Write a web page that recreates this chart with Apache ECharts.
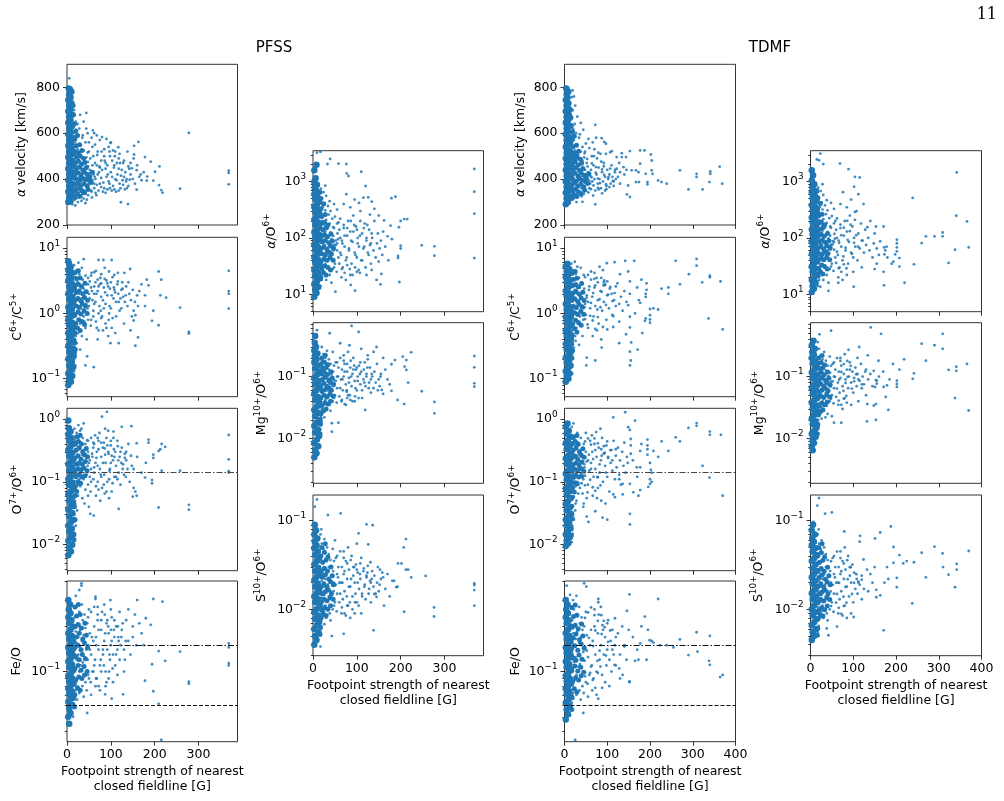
<!DOCTYPE html>
<html><head><meta charset="utf-8">
<script src="https://cdn.jsdelivr.net/npm/echarts@6/dist/echarts.min.js"></script>
<style>html,body{margin:0;padding:0;background:#fff}#c{width:1004px;height:801px}</style>
</head><body><div id="c"></div><script>
// ---------- tick labels / reference values ----------
const xTicksPFSS = [0,100,200,300];
const xTicksTDMF = [0,100,200,300,400];
const velTicks = [200,400,600,800];
const c6Ticks = [0.1,1,10];
const o7Ticks = [0.01,0.1,1];
const feoTicks = [0.1];
const aoTicks = [10,100,1000];
const mgTicks = [0.01,0.1];
const sTicks = [0.01,0.1];
const o7Threshold = 0.145;
const feoUpper = 0.152;
const feoPhot = 0.0646;

// ---------- PFSS data ----------
const pfssVelCore = [[3,300],[8,305],[5,320],[11,330],[3,345],[9,355],[14,350],[5,370],[12,380],[3,395],[8,405],[15,410],[5,420],[11,430],[3,445],[9,455],[14,460],[5,470],[12,480],[3,495],[8,505],[14,510],[5,520],[11,530],[3,545],[9,555],[5,570],[12,580],[3,595],[8,605],[5,620],[11,630],[3,645],[8,655],[5,670],[11,680],[3,695],[8,705],[5,720],[10,730],[3,745],[8,755],[5,770],[10,780],[4,795],[7,790]];
const pfssVelMid = [[18,320],[24,335],[30,325],[20,350],[27,360],[34,350],[40,340],[18,375],[25,385],[32,372],[39,380],[46,370],[21,400],[28,395],[35,405],[42,398],[50,395],[18,420],[25,428],[32,418],[40,430],[47,420],[21,445],[28,452],[36,440],[44,450],[19,470],[26,478],[33,465],[41,472],[22,495],[30,500],[38,490],[18,520],[26,515],[34,525],[21,545],[29,550],[18,575],[24,590],[20,610],[17,640],[15,680],[14,720],[52,410],[58,430],[55,385],[48,355]];
const pfssVelPts = [[18,310],[22,330],[26,318],[30,345],[20,360],[35,335],[40,350],[25,375],[45,365],[32,390],[18,400],[28,410],[38,395],[50,380],[55,400],[22,430],[34,425],[44,415],[60,420],[20,460],[30,450],[42,445],[52,440],[26,480],[36,470],[48,475],[58,460],[20,500],[32,505],[44,495],[24,530],[38,525],[50,520],[18,560],[30,550],[42,560],[22,590],[35,580],[28,620],[20,650],[16,700],[24,640],[55,350],[65,340],[48,330],[38,315],[62,380],[16,480],[16,540],[16,600],[17,430],[17,380],[25,300],[33,305],[12,290],[19,285],[45,310],[57,320],
[65,400],[70,420],[75,380],[80,440],[85,360],[90,410],[95,390],[100,430],[105,370],[110,400],[115,420],[120,380],[125,440],[130,410],[135,390],[140,370],[145,420],[150,400],[68,460],[78,480],[88,470],[98,500],[108,460],[118,490],[128,470],[138,520],[72,350],[82,345],[92,355],[102,350],[112,345],[122,360],[132,355],[70,520],[85,530],[95,540],[110,520],[60,500],[64,550],[75,570],[90,575],[100,560],[117,539],[99,557],[59,612],[68,590],[80,583],[47,600],[36,591],[152,490],[148,447],[159,439],[163,562],[153,545],[153,507],[178,496],[191,476],[143,397],[137,361],[159,354],[155,380],[165,410],[170,395],[175,430],[182,393],[183,411],[197,393],[201,432],[211,455],[210,374],[215,352],[218,341],[123,299],[139,291],[42,295],[258,358],[278,601],[369,437],[369,427],[369,377],[5,839],[44,688],[130,480],[140,455],[120,510],[105,525],[85,500],[160,460],[168,420],[145,470],[75,450],[55,430],[48,455],
[46,405],[52,425],[58,395],[63,410],[68,375],[73,430],[78,405],[83,385],[88,445],[93,420],[97,380],[103,410],[107,450],[113,395],[118,445],[123,415],[127,395],[133,430],[47,515],[53,490],[58,540],[64,470],[69,505],[74,455],[79,520],[86,480],[92,460],[97,520],[103,480],[109,500],[114,470],[121,470],[56,345],[62,360],[67,330],[78,365],[88,340],[98,360],[108,355],[118,350],[128,375],[136,400],[142,445],[50,560],[56,580],[62,600],[44,620],[38,650],[30,680]];

const pfssC6Core = [[3,0.08],[9,0.09],[5,0.1],[12,0.11],[3,0.12],[8,0.135],[14,0.15],[5,0.16],[11,0.18],[3,0.2],[9,0.22],[14,0.24],[5,0.26],[12,0.29],[3,0.32],[8,0.36],[15,0.38],[5,0.42],[11,0.46],[3,0.5],[9,0.56],[14,0.6],[5,0.66],[12,0.72],[3,0.8],[8,0.88],[15,0.95],[5,1.05],[11,1.15],[3,1.25],[9,1.4],[14,1.5],[5,1.65],[12,1.8],[3,2.0],[8,2.2],[15,2.4],[5,2.6],[11,2.9],[3,3.2],[9,3.5],[5,3.9],[12,4.2],[3,4.6],[8,5.1],[5,5.7],[3,6.3]];
const pfssC6Mid = [[18,0.5],[24,0.6],[30,0.55],[20,0.7],[27,0.8],[34,0.75],[40,0.68],[18,0.95],[25,1.05],[32,0.98],[39,1.1],[46,1.0],[21,1.3],[28,1.25],[35,1.4],[42,1.3],[18,1.6],[25,1.7],[32,1.55],[40,1.75],[47,1.6],[21,2.1],[28,2.2],[36,2.0],[44,2.15],[19,2.7],[26,2.8],[33,2.6],[41,2.9],[22,3.4],[30,3.5],[18,4.2],[26,4.5],[17,0.35],[19,0.28],[17,0.22]];
const pfssC6Pts = [[18,0.3],[20,0.45],[22,0.6],[25,0.8],[18,0.9],[28,1.0],[32,1.2],[20,1.3],[36,1.5],[24,1.6],[40,1.8],[28,2.0],[44,2.2],[20,2.4],[32,2.6],[48,2.8],[24,3.0],[36,3.3],[52,3.1],[18,3.6],[28,4.0],[42,3.8],[22,4.6],[34,5.0],[16,5.5],[26,6.0],[55,2.5],[58,1.6],[50,1.3],[46,1.0],[38,0.9],[30,0.7],[42,0.6],[25,0.5],[34,0.45],[55,0.8],[60,1.1],[62,2.0],[65,3.0],[17,0.2],[19,0.16],[16,0.13],[20,0.25],[22,0.35],[30,0.28],[45,0.4],[50,2.0],[56,4.2],[38,2.4],[44,1.4],[26,1.1],[33,1.7],[17,1.9],[17,0.65],[21,2.2],[40,0.75],
[65,1.5],[70,2.2],[72,1.0],[75,2.8],[78,1.8],[80,0.9],[84,2.5],[88,1.4],[90,3.2],[92,1.9],[95,0.8],[98,2.4],[100,1.2],[104,3.6],[106,1.7],[110,2.1],[112,0.9],[115,2.8],[118,1.5],[120,1.1],[124,2.3],[128,1.8],[130,0.7],[135,2.6],[138,1.3],[142,2.0],[146,1.6],[148,0.9],[66,4.5],[78,4.0],[86,5.0],[96,4.4],[108,3.9],[116,4.2],[68,0.6],[82,0.55],[94,0.45],[70,0.4],[76,3.5],[88,0.7],[102,0.6],[62,2.6],[74,1.3],[126,3.0],[110,0.5],[99,0.35],[118,0.35],[72,6.6],[83,6.6],[102,6.6],[38,6.8],[42,0.16],[61,0.15],[46,0.22],[144,4.8],[131,4.2],[182,3.3],[186,2.7],[160,1.9],[178,1.9],[178,1.3],[162,1.3],[152,1.1],[156,0.94],[152,0.78],[162,0.43],[156,0.32],[209,4.4],[215,3.3],[226,1.75],[209,0.66],[213,1.9],[197,1.1],[194,0.77],[258,1.23],[278,0.52],[278,0.49],[369,4.5],[369,2.2],[369,2.0],[369,1.19],[140,3.0],[150,2.3],[165,2.2],[170,2.8],[155,1.5],[145,0.55],
[47,1.2],[52,1.7],[57,2.2],[62,1.4],[67,2.0],[72,2.6],[77,1.1],[82,1.6],[87,2.1],[92,2.9],[97,1.3],[102,1.9],[107,2.5],[112,1.5],[117,2.0],[122,1.7],[127,2.4],[132,1.5],[48,0.8],[54,0.65],[60,0.9],[66,0.75],[72,0.55],[78,0.85],[84,1.2],[90,0.6],[96,1.0],[104,0.85],[48,3.5],[55,3.8],[62,4.3],[70,3.3],[78,2.9],[86,3.4],[94,2.6],[100,3.0],[108,2.3],[116,3.1],[124,1.2],[134,1.9]];

const pfssO7Core = [[3,0.0068],[9,0.0078],[5,0.009],[12,0.01],[3,0.0115],[8,0.013],[14,0.0145],[5,0.016],[11,0.018],[3,0.02],[9,0.023],[15,0.025],[5,0.028],[12,0.032],[3,0.036],[8,0.04],[14,0.045],[5,0.05],[11,0.056],[3,0.063],[9,0.07],[15,0.078],[5,0.088],[12,0.098],[3,0.11],[8,0.12],[14,0.135],[5,0.15],[11,0.17],[3,0.19],[9,0.21],[15,0.23],[5,0.26],[12,0.29],[3,0.32],[8,0.36],[14,0.4],[5,0.45],[10,0.5],[3,0.56],[8,0.63],[4,0.72],[3,0.95]];
const pfssO7Mid = [[18,0.06],[22,0.07],[19,0.085],[25,0.1],[31,0.095],[20,0.12],[27,0.13],[34,0.12],[41,0.125],[18,0.15],[25,0.16],[32,0.155],[39,0.165],[46,0.15],[21,0.19],[28,0.2],[35,0.19],[42,0.21],[18,0.24],[25,0.26],[32,0.23],[40,0.27],[47,0.25],[21,0.32],[28,0.35],[36,0.3],[44,0.34],[19,0.41],[26,0.44],[33,0.4],[22,0.52],[30,0.55],[17,0.04],[18,0.025],[16,0.012]];
const pfssO7Pts = [[17,0.03],[19,0.04],[18,0.05],[22,0.06],[20,0.075],[25,0.09],[18,0.1],[28,0.11],[22,0.13],[32,0.14],[20,0.16],[26,0.18],[36,0.17],[18,0.2],[30,0.22],[40,0.2],[24,0.25],[34,0.27],[44,0.24],[20,0.3],[28,0.33],[38,0.32],[48,0.3],[22,0.38],[32,0.42],[42,0.4],[18,0.46],[26,0.5],[36,0.5],[46,0.46],[22,0.6],[30,0.65],[17,0.7],[50,0.2],[55,0.16],[45,0.13],[38,0.11],[30,0.085],[42,0.075],[25,0.06],[35,0.055],[48,0.06],[55,0.1],[58,0.25],[60,0.35],[52,0.12],[21,0.025],[23,0.035],[17,0.015],[20,0.02],[40,0.045],[50,0.04],[38,0.85],[61,0.029],[53,0.031],[26,0.8],[33,0.7],
[62,0.14],[65,0.2],[68,0.3],[70,0.1],[72,0.45],[75,0.16],[78,0.25],[80,0.08],[82,0.35],[85,0.13],[88,0.2],[90,0.5],[92,0.1],[95,0.28],[98,0.16],[100,0.38],[102,0.07],[105,0.22],[108,0.12],[110,0.3],[112,0.18],[115,0.45],[118,0.14],[120,0.25],[122,0.09],[125,0.35],[128,0.19],[130,0.13],[132,0.28],[135,0.22],[138,0.16],[140,0.4],[143,0.1],[146,0.26],[148,0.18],[66,0.06],[76,0.05],[86,0.065],[96,0.055],[64,0.55],[74,0.6],[84,0.42],[94,0.65],[106,0.5],[91,1.3],[80,1.09],[87,0.7],[125,0.75],[147,0.77],[106,0.63],[118,0.037],[159,0.41],[152,0.16],[152,0.08],[156,0.07],[159,0.06],[150,0.058],[180,0.2],[178,0.117],[186,0.47],[186,0.42],[194,0.107],[194,0.095],[197,0.27],[197,0.24],[209,0.31],[213,0.33],[216,0.4],[224,0.36],[216,0.15],[209,0.039],[258,0.15],[278,0.043],[278,0.036],[369,0.556],[369,0.228],[369,0.148],[369,0.14],[60,0.42],[70,0.18],[100,0.2],[115,0.11],[135,0.3],[160,0.25],[170,0.14],
[47,0.18],[52,0.22],[57,0.28],[62,0.17],[67,0.24],[72,0.33],[77,0.13],[82,0.2],[87,0.27],[92,0.38],[97,0.15],[102,0.26],[107,0.33],[112,0.12],[117,0.22],[122,0.3],[127,0.16],[132,0.24],[48,0.09],[54,0.07],[60,0.11],[66,0.085],[72,0.075],[78,0.12],[84,0.09],[90,0.07],[96,0.11],[104,0.095],[48,0.45],[55,0.5],[62,0.4],[70,0.5],[78,0.42],[86,0.34],[94,0.3],[100,0.45],[108,0.25],[116,0.37],[124,0.2],[134,0.12]];

const pfssFeoCore = [[3,0.05],[8,0.053],[5,0.057],[12,0.06],[3,0.063],[9,0.066],[14,0.068],[5,0.071],[11,0.074],[3,0.077],[8,0.08],[15,0.083],[5,0.086],[12,0.09],[3,0.094],[9,0.098],[14,0.102],[5,0.107],[11,0.112],[3,0.117],[8,0.122],[15,0.127],[5,0.133],[12,0.139],[3,0.145],[9,0.152],[14,0.158],[5,0.165],[11,0.173],[3,0.18],[8,0.19],[14,0.2],[5,0.21],[10,0.22],[3,0.23],[8,0.245],[4,0.26],[7,0.28],[3,0.3],[5,0.045]];
const pfssFeoMid = [[18,0.07],[24,0.078],[30,0.075],[20,0.088],[27,0.092],[34,0.09],[40,0.095],[18,0.105],[25,0.11],[32,0.102],[39,0.108],[46,0.1],[21,0.125],[28,0.12],[35,0.13],[42,0.122],[18,0.145],[25,0.15],[32,0.14],[40,0.155],[47,0.145],[21,0.17],[28,0.18],[36,0.165],[44,0.175],[19,0.2],[26,0.205],[33,0.195],[41,0.21],[22,0.235],[30,0.24],[18,0.27],[26,0.28],[17,0.058]];
const pfssFeoPts = [[17,0.065],[20,0.075],[18,0.085],[24,0.09],[28,0.1],[20,0.105],[32,0.11],[22,0.12],[36,0.115],[26,0.13],[40,0.125],[18,0.14],[30,0.145],[44,0.14],[22,0.155],[34,0.16],[48,0.15],[26,0.17],[38,0.175],[20,0.185],[30,0.19],[42,0.195],[52,0.18],[24,0.21],[36,0.22],[46,0.21],[18,0.23],[28,0.25],[40,0.24],[22,0.27],[34,0.28],[50,0.26],[55,0.13],[58,0.1],[50,0.09],[42,0.085],[35,0.08],[28,0.072],[45,0.075],[38,0.068],[55,0.07],[60,0.16],[62,0.2],[20,0.32],[28,0.35],[16,0.06],[19,0.07],[23,0.065],
[64,0.12],[66,0.17],[68,0.09],[70,0.22],[72,0.14],[75,0.11],[78,0.19],[80,0.25],[82,0.13],[85,0.16],[88,0.1],[90,0.21],[92,0.14],[95,0.18],[98,0.12],[100,0.15],[102,0.23],[105,0.13],[108,0.17],[110,0.11],[112,0.2],[115,0.14],[118,0.16],[120,0.12],[125,0.19],[130,0.14],[135,0.22],[140,0.16],[145,0.13],[150,0.2],[155,0.24],[158,0.15],[65,0.08],[75,0.075],[88,0.08],[95,0.09],[105,0.085],[70,0.27],[85,0.28],[100,0.26],[120,0.25],[140,0.26],[33,0.388],[33,0.374],[65,0.316],[65,0.305],[99,0.3],[197,0.305],[218,0.293],[160,0.3],[180,0.227],[191,0.205],[209,0.137],[224,0.118],[258,0.136],[278,0.0858],[278,0.083],[369,0.154],[369,0.145],[369,0.114],[369,0.11],[194,0.112],[178,0.087],[197,0.074],[209,0.061],[215,0.035],[128,0.0706],[87,0.0706],[102,0.066],[46,0.053],[14,0.05],[8,0.051],[4,0.055],[170,0.18],[165,0.21],[150,0.17],[175,0.15],[130,0.1],[115,0.095],
[47,0.12],[52,0.14],[57,0.17],[62,0.11],[67,0.15],[72,0.19],[77,0.12],[82,0.14],[87,0.18],[92,0.22],[97,0.13],[102,0.16],[107,0.19],[112,0.13],[117,0.17],[122,0.15],[127,0.21],[132,0.12],[48,0.095],[54,0.085],[60,0.1],[66,0.09],[72,0.08],[78,0.1],[84,0.11],[90,0.085],[96,0.1],[104,0.105],[48,0.23],[55,0.25],[62,0.27],[70,0.24],[78,0.22],[86,0.24],[94,0.2],[100,0.19],[108,0.22],[116,0.2],[124,0.17],[134,0.16]];

const pfssAoCore = [[3,9],[8,10.5],[5,12],[12,13.5],[3,15],[9,17],[14,19],[5,21],[11,24],[3,27],[8,30],[15,33],[5,37],[12,41],[3,46],[9,51],[14,56],[5,62],[11,69],[3,76],[8,84],[15,93],[5,103],[12,114],[3,126],[9,140],[14,155],[5,170],[11,190],[3,210],[8,235],[15,260],[5,290],[12,320],[3,355],[9,395],[14,440],[5,490],[10,540],[3,600],[8,680],[4,780],[9,880],[3,1000],[6,1150],[3,1600],[8,2000]];
const pfssAoMid = [[18,20],[24,24],[30,22],[20,28],[27,32],[34,30],[40,27],[18,38],[25,42],[32,40],[39,44],[46,40],[21,52],[28,50],[35,56],[42,52],[18,65],[25,70],[32,62],[40,72],[47,66],[21,85],[28,90],[36,82],[44,88],[19,110],[26,115],[33,105],[41,118],[22,140],[30,150],[18,180],[26,190],[34,170],[20,240],[28,260],[18,330],[24,400],[18,500],[16,650]];
const pfssAoPts = [[17,14],[20,18],[18,22],[24,25],[22,30],[28,34],[20,38],[32,40],[26,45],[36,48],[18,52],[30,56],[40,58],[22,64],[34,68],[44,65],[26,75],[38,80],[48,75],[20,88],[30,92],[42,95],[52,90],[24,105],[36,110],[46,108],[18,120],[28,130],[40,125],[56,120],[22,145],[34,150],[46,155],[26,170],[38,180],[20,200],[30,210],[44,220],[24,250],[36,260],[50,240],[18,290],[28,310],[40,300],[22,350],[34,370],[26,420],[38,450],[20,500],[30,560],[24,650],[18,750],[28,850],[55,60],[58,45],[50,35],[45,28],[38,22],[30,18],[42,16],[55,80],[60,140],[62,100],[58,190],[55,320],[48,400],
[64,50],[66,90],[68,30],[70,150],[72,70],[75,40],[78,110],[80,200],[82,60],[85,130],[88,35],[90,85],[92,250],[95,55],[98,160],[100,45],[102,100],[105,70],[108,300],[110,40],[112,120],[115,65],[118,180],[120,30],[122,90],[125,55],[128,140],[130,75],[132,35],[135,100],[138,60],[140,200],[143,45],[146,80],[148,120],[150,38],[152,65],[155,90],[158,50],[65,20],[75,18],[85,22],[100,25],[70,400],[85,350],[95,480],[105,420],[76,600],[368,1680],[368,664],[368,270],[368,44],[277,48.5],[277,71],[248,74],[200,73],[200,65],[194,44],[194,48],[197,16.5],[154,15],[188,540],[179,510],[200,200],[208,217],[215,217],[196,155],[177,165],[170,107],[162,205],[120,837],[110,1500],[76,2060],[58,2100],[39,2530],[33,2060],[77,1400],[81,1260],[9,3270],[17,3400],[96,11.6],[51,11.1],[86,14.6],[134,442],[126,527],[115,520],[145,18],[156,23],[134,27],[122,22],[107,24],[165,70],[172,40],[180,95],[160,130],[150,250],[140,330],[130,260],
[47,60],[52,75],[57,95],[62,55],[67,80],[72,110],[77,45],[82,65],[87,90],[92,130],[97,50],[102,80],[107,110],[112,40],[117,70],[122,100],[127,50],[132,80],[48,30],[54,25],[60,35],[66,28],[72,24],[78,33],[84,28],[90,22],[96,30],[104,27],[48,150],[55,180],[62,220],[70,170],[78,150],[86,200],[94,170],[100,140],[108,200],[116,150],[124,170],[134,120]];

const pfssMgCore = [[3,0.005],[8,0.0058],[5,0.0066],[12,0.0075],[3,0.0085],[9,0.0097],[14,0.011],[5,0.0125],[11,0.014],[3,0.016],[8,0.018],[15,0.02],[5,0.023],[12,0.026],[3,0.029],[9,0.033],[14,0.037],[5,0.042],[11,0.047],[3,0.053],[8,0.06],[15,0.067],[5,0.075],[12,0.085],[3,0.095],[9,0.107],[14,0.12],[5,0.135],[11,0.15],[3,0.17],[8,0.19],[4,0.21],[10,0.235],[3,0.26],[7,0.3],[4,0.35],[5,0.45]];
const pfssMgMid = [[18,0.025],[24,0.028],[30,0.03],[20,0.034],[27,0.038],[34,0.036],[40,0.04],[18,0.045],[25,0.05],[32,0.047],[39,0.052],[46,0.048],[21,0.058],[28,0.062],[35,0.066],[42,0.06],[18,0.072],[25,0.078],[32,0.07],[40,0.08],[47,0.075],[21,0.09],[28,0.098],[36,0.088],[44,0.095],[19,0.11],[26,0.118],[33,0.108],[41,0.12],[22,0.135],[30,0.14],[18,0.16],[26,0.17],[34,0.155],[20,0.2],[28,0.22],[17,0.017],[16,0.012]];
const pfssMgPts = [[17,0.014],[19,0.018],[18,0.022],[22,0.026],[20,0.03],[25,0.035],[18,0.04],[28,0.042],[22,0.048],[32,0.05],[20,0.055],[26,0.06],[36,0.058],[18,0.065],[30,0.07],[40,0.068],[24,0.078],[34,0.082],[44,0.075],[20,0.09],[28,0.095],[38,0.092],[48,0.088],[22,0.105],[32,0.11],[42,0.108],[18,0.12],[26,0.125],[36,0.13],[46,0.12],[22,0.145],[30,0.15],[40,0.16],[20,0.18],[28,0.2],[36,0.19],[24,0.23],[32,0.26],[20,0.3],[50,0.05],[55,0.065],[45,0.04],[38,0.035],[30,0.03],[40,0.028],[26,0.022],[55,0.1],[58,0.14],[52,0.17],[45,0.25],[62,0.345],[83,0.32],[38,0.5],[43,0.0177],[43,0.0129],[58,0.018],[9,0.56],[5,0.37],
[64,0.09],[66,0.13],[68,0.06],[70,0.1],[72,0.16],[75,0.075],[78,0.12],[80,0.05],[82,0.095],[85,0.14],[88,0.07],[90,0.11],[92,0.2],[95,0.085],[98,0.13],[100,0.06],[102,0.1],[105,0.15],[108,0.075],[110,0.12],[112,0.045],[115,0.09],[118,0.17],[120,0.07],[122,0.11],[125,0.22],[128,0.08],[130,0.14],[132,0.055],[135,0.1],[138,0.065],[140,0.12],[143,0.08],[146,0.16],[148,0.06],[150,0.09],[152,0.07],[155,0.11],[65,0.04],[75,0.035],[85,0.042],[95,0.04],[70,0.22],[80,0.25],[88,0.657],[104,0.525],[145,0.3],[138,0.25],[119,0.029],[77,0.057],[154,0.1],[160,0.0526],[157,0.061],[179,0.158],[179,0.059],[187,0.185],[193,0.042],[205,0.21],[209,0.145],[213,0.128],[213,0.185],[217,0.08],[224,0.246],[208,0.036],[248,0.058],[277,0.039],[277,0.0256],[368,0.215],[368,0.141],[368,0.078],[368,0.069],[165,0.13],[170,0.09],[175,0.075],[160,0.2],[110,0.28],[125,0.19],
[47,0.07],[52,0.085],[57,0.1],[62,0.065],[67,0.09],[72,0.12],[77,0.06],[82,0.08],[87,0.1],[92,0.13],[97,0.065],[102,0.085],[107,0.11],[112,0.06],[117,0.08],[122,0.1],[127,0.065],[132,0.09],[48,0.045],[54,0.038],[60,0.048],[66,0.042],[72,0.036],[78,0.045],[84,0.05],[90,0.04],[96,0.048],[104,0.045],[48,0.15],[55,0.17],[62,0.2],[70,0.18],[78,0.16],[86,0.18],[94,0.15],[100,0.14],[108,0.17],[116,0.13],[124,0.14],[134,0.11]];

const pfssSCore = [[3,0.004],[8,0.0045],[5,0.005],[12,0.0055],[3,0.006],[9,0.0066],[14,0.0072],[5,0.0078],[11,0.0085],[3,0.0093],[8,0.01],[15,0.011],[5,0.012],[12,0.013],[3,0.014],[9,0.0153],[14,0.0166],[5,0.018],[11,0.0196],[3,0.0213],[8,0.023],[15,0.025],[5,0.027],[12,0.0295],[3,0.032],[9,0.035],[14,0.038],[5,0.041],[11,0.045],[3,0.049],[8,0.053],[4,0.058],[10,0.063],[3,0.07],[7,0.078],[4,0.09]];
const pfssSMid = [[18,0.008],[24,0.0088],[30,0.0085],[20,0.0098],[27,0.0105],[34,0.01],[40,0.011],[18,0.012],[25,0.013],[32,0.0125],[39,0.0135],[46,0.013],[21,0.015],[28,0.0158],[35,0.0165],[42,0.015],[18,0.018],[25,0.0195],[32,0.018],[40,0.0205],[47,0.019],[21,0.023],[28,0.0245],[36,0.022],[44,0.024],[19,0.027],[26,0.029],[33,0.027],[41,0.03],[22,0.034],[30,0.036],[18,0.04],[26,0.044],[34,0.039],[20,0.05],[28,0.055],[17,0.0062],[16,0.0052]];
const pfssSPts = [[17,0.0055],[19,0.0065],[18,0.0075],[22,0.008],[20,0.009],[25,0.0095],[18,0.0105],[28,0.011],[22,0.012],[32,0.0125],[20,0.0135],[26,0.0145],[36,0.014],[18,0.016],[30,0.017],[40,0.016],[24,0.018],[34,0.019],[44,0.0185],[20,0.021],[28,0.022],[38,0.021],[48,0.02],[22,0.024],[32,0.025],[42,0.024],[18,0.027],[26,0.028],[36,0.03],[46,0.027],[22,0.033],[30,0.035],[40,0.036],[20,0.04],[28,0.043],[36,0.042],[24,0.048],[32,0.05],[20,0.055],[26,0.062],[50,0.012],[55,0.015],[45,0.01],[38,0.009],[30,0.008],[40,0.0075],[26,0.0068],[55,0.025],[58,0.03],[52,0.038],[45,0.048],[50,0.06],[60,0.02],[17,0.07],[19,0.08],
[64,0.02],[66,0.03],[68,0.013],[70,0.025],[72,0.016],[75,0.035],[78,0.022],[80,0.011],[82,0.028],[85,0.018],[88,0.04],[90,0.014],[92,0.024],[95,0.02],[98,0.032],[100,0.012],[102,0.026],[105,0.017],[108,0.022],[110,0.038],[112,0.015],[115,0.027],[118,0.019],[120,0.013],[122,0.024],[125,0.031],[128,0.017],[130,0.021],[132,0.012],[135,0.027],[138,0.018],[140,0.024],[143,0.015],[146,0.02],[148,0.03],[150,0.016],[152,0.019],[155,0.022],[65,0.009],[75,0.0085],[85,0.008],[95,0.009],[110,0.009],[70,0.045],[80,0.05],[100,0.055],[368,0.0196],[368,0.0188],[368,0.0165],[368,0.011],[276,0.0105],[276,0.0083],[257,0.0238],[208,0.0094],[207,0.05],[212,0.062],[212,0.028],[217,0.028],[224,0.023],[202,0.033],[194,0.033],[181,0.021],[185,0.021],[193,0.018],[190,0.0178],[162,0.011],[145,0.0138],[140,0.0149],[158,0.026],[160,0.023],[153,0.028],[131,0.034],[126,0.054],[122,0.091],[136,0.089],[104,0.072],[63,0.121],[34,0.116],[9,0.174],[4,0.144],[138,0.0058],[70,0.0053],[43,0.005],[17,0.0038],[165,0.017],[170,0.025],[175,0.014],
[47,0.016],[52,0.019],[57,0.023],[62,0.015],[67,0.02],[72,0.027],[77,0.014],[82,0.018],[87,0.022],[92,0.03],[97,0.015],[102,0.02],[107,0.025],[112,0.014],[117,0.018],[122,0.023],[127,0.015],[132,0.02],[48,0.011],[54,0.0095],[60,0.012],[66,0.0105],[72,0.009],[78,0.011],[84,0.012],[90,0.01],[96,0.012],[104,0.011],[48,0.035],[55,0.04],[62,0.045],[70,0.038],[78,0.033],[86,0.036],[94,0.03],[100,0.028],[108,0.033],[116,0.029],[124,0.026],[134,0.022]];

// ---------- TDMF data ----------
const tdmfVelCore = [[3,290],[8,300],[5,315],[11,325],[3,340],[9,350],[14,355],[5,365],[12,375],[3,390],[8,400],[15,405],[5,415],[11,425],[3,440],[9,450],[14,455],[5,465],[12,475],[3,490],[8,500],[14,505],[5,515],[11,525],[3,540],[9,550],[13,560],[5,570],[11,580],[3,595],[8,605],[5,620],[11,630],[3,645],[8,655],[5,670],[10,680],[3,695],[8,705],[5,720],[9,730],[3,745],[7,755],[5,770],[9,780],[4,795]];
const tdmfVelMid = [[18,316],[23,332],[29,324],[19,346],[26,356],[33,344],[39,336],[17,371],[24,383],[31,369],[38,377],[45,366],[20,397],[27,391],[34,403],[41,395],[49,390],[17,417],[24,426],[31,415],[39,427],[46,417],[20,441],[27,449],[35,437],[43,446],[18,467],[25,476],[32,461],[40,469],[21,491],[29,497],[37,486],[17,517],[25,511],[33,521],[20,541],[28,547],[17,571],[23,587],[19,607],[16,633],[15,668],[14,702],[51,406],[57,423],[54,381],[47,351]];
const tdmfVelPts = [[17,310],[20,330],[25,320],[30,340],[22,355],[35,345],[40,360],[18,370],[27,380],[45,370],[32,395],[50,385],[20,405],[38,410],[55,400],[25,425],[43,420],[60,415],[18,440],[30,445],[48,440],[22,460],[36,465],[54,455],[28,485],[42,480],[18,500],[32,505],[46,495],[24,525],[38,520],[18,545],[30,550],[22,570],[34,580],[18,595],[27,600],[20,620],[24,640],[16,660],[19,700],[17,757],[19,786],[13,713],[9,797],[50,350],[58,360],[45,335],[28,300],[40,325],[55,430],[52,470],[42,540],[36,595],[48,520],[60,380],[65,390],[70,400],[62,440],[68,460],
[72,350],[75,420],[78,380],[80,450],[82,400],[85,360],[88,430],[90,390],[92,470],[95,410],[98,370],[100,440],[102,400],[105,420],[108,380],[110,460],[112,410],[115,390],[118,430],[120,400],[76,490],[84,510],[70,530],[64,500],[66,560],[74,580],[80,355],[95,350],[105,365],[115,370],[72,636],[42,301],[72,290],[87,578],[97,554],[93,562],[107,517],[111,522],[134,513],[134,496],[153,522],[177,525],[187,525],[202,507],[204,481],[204,438],[206,423],[194,387],[194,377],[174,387],[167,387],[149,372],[146,333],[153,322],[157,438],[167,438],[177,467],[173,430],[190,423],[219,394],[227,387],[239,380],[270,438],[309,423],[309,409],[290,355],[323,355],[341,433],[341,423],[339,387],[363,454],[369,380],[122,496],[130,430],[144,496],[138,452],[125,410],[130,380],[140,420],[122,445],[128,470],[145,440],
[46,402],[52,422],[58,392],[63,408],[68,372],[73,428],[78,402],[83,382],[88,442],[93,418],[97,378],[103,408],[107,446],[113,392],[118,440],[47,512],[53,488],[58,535],[64,468],[69,500],[74,452],[79,515],[86,476],[92,456],[97,510],[56,342],[62,356],[67,328],[78,362],[88,338],[98,356],[50,555],[56,575],[44,615],[38,645],[30,672],[25,720],[22,760]];

const tdmfC6Core = [[3,0.09],[9,0.1],[5,0.11],[12,0.12],[3,0.13],[8,0.145],[14,0.16],[5,0.175],[11,0.19],[3,0.21],[9,0.23],[14,0.25],[5,0.28],[12,0.31],[3,0.34],[8,0.38],[15,0.41],[5,0.45],[11,0.5],[3,0.55],[9,0.6],[14,0.66],[5,0.72],[12,0.8],[3,0.88],[8,0.96],[15,1.05],[5,1.15],[11,1.27],[3,1.4],[9,1.55],[14,1.7],[5,1.85],[12,2.0],[3,2.2],[8,2.45],[15,2.7],[5,3.0],[11,3.3],[3,3.6],[9,4.0],[5,4.4],[11,4.8],[3,5.3],[7,5.8]];
const tdmfC6Mid = [[18,0.47],[23,0.59],[29,0.52],[19,0.69],[26,0.79],[33,0.72],[39,0.66],[17,0.93],[24,1.03],[31,0.96],[38,1.08],[45,0.97],[20,1.28],[27,1.23],[34,1.38],[41,1.27],[17,1.58],[24,1.68],[31,1.53],[39,1.73],[46,1.58],[20,2.05],[27,2.17],[35,1.97],[43,2.12],[18,2.66],[25,2.76],[32,2.56],[40,2.87],[21,3.33],[29,3.46],[17,4.1],[25,4.4],[17,0.34],[19,0.27],[17,0.21]];
const tdmfC6Pts = [[18,0.12],[17,0.15],[20,0.2],[16,0.25],[22,0.3],[19,0.38],[25,0.45],[18,0.55],[28,0.6],[22,0.7],[32,0.75],[20,0.85],[36,0.9],[25,1.0],[40,1.05],[18,1.15],[30,1.2],[44,1.2],[22,1.35],[34,1.45],[48,1.4],[26,1.6],[38,1.7],[20,1.85],[30,2.0],[42,2.1],[52,1.9],[24,2.3],[36,2.5],[46,2.4],[18,2.7],[28,2.9],[40,3.0],[22,3.3],[34,3.5],[26,4.0],[20,4.6],[30,5.2],[16,5.8],[24,6.2],[55,1.5],[58,2.6],[50,0.95],[44,0.8],[38,0.65],[30,0.5],[42,0.45],[26,0.38],[34,0.33],[55,0.6],[60,1.2],[62,3.3],[45,3.9],[38,5.0],[52,0.21],[51,0.16],[72,0.19],
[65,1.8],[68,0.9],[70,2.5],[72,1.3],[75,3.5],[78,1.6],[80,0.7],[84,2.2],[88,1.1],[90,4.6],[92,1.5],[95,2.8],[98,0.8],[100,1.9],[104,1.2],[106,2.4],[110,2.0],[112,0.95],[116,1.6],[120,1.3],[124,2.9],[128,0.75],[132,1.8],[136,1.1],[140,2.2],[145,1.5],[66,0.45],[76,0.55],[86,0.4],[70,4.2],[82,5.2],[93,3.2],[91,2.7],[99,5.9],[117,6.1],[142,6.4],[163,6.4],[114,0.91],[114,0.62],[100,0.57],[87,0.3],[128,0.35],[144,0.48],[156,0.36],[149,4.4],[153,3.1],[153,2.0],[149,1.34],[153,0.89],[153,0.61],[153,0.26],[153,0.16],[155,0.19],[171,0.28],[182,0.5],[174,1.6],[177,1.45],[190,1.8],[190,2.0],[192,2.3],[192,2.9],[190,0.84],[188,0.77],[200,1.17],[200,0.94],[200,0.81],[200,0.72],[208,1.2],[219,1.15],[227,2.4],[243,2.5],[243,2.0],[270,2.8],[260,6.4],[291,4.0],[309,6.86],[309,5.4],[322,3.0],[340,3.8],[340,3.6],[337,0.84],[365,3.1],[370,0.57],[165,1.0],[170,2.5],[180,3.3],[130,4.0],
[47,1.25],[52,1.75],[57,2.3],[62,1.45],[67,2.05],[72,2.7],[77,1.15],[82,1.65],[87,2.15],[92,3.0],[97,1.35],[102,1.95],[107,2.55],[112,1.55],[117,2.05],[48,0.82],[54,0.68],[60,0.92],[66,0.78],[72,0.58],[78,0.88],[84,1.25],[90,0.62],[48,3.6],[55,3.9],[62,4.4],[70,3.4],[78,3.0],[86,3.5],[94,2.7],[100,3.1],[120,2.6],[128,1.4]];

const tdmfO7Core = [[3,0.0095],[9,0.0105],[5,0.0115],[12,0.013],[3,0.0145],[8,0.016],[14,0.018],[5,0.02],[11,0.0225],[3,0.025],[9,0.028],[15,0.031],[5,0.035],[12,0.039],[3,0.044],[8,0.049],[14,0.055],[5,0.062],[11,0.07],[3,0.078],[9,0.087],[15,0.097],[5,0.108],[12,0.12],[3,0.135],[8,0.15],[14,0.168],[5,0.19],[11,0.21],[3,0.235],[9,0.26],[15,0.29],[5,0.33],[12,0.37],[3,0.41],[8,0.46],[14,0.52],[5,0.58],[10,0.65],[3,0.75],[7,0.85]];
const tdmfO7Mid = [[18,0.057],[23,0.069],[19,0.081],[24,0.097],[30,0.093],[20,0.117],[26,0.128],[33,0.119],[40,0.123],[17,0.147],[24,0.158],[31,0.151],[38,0.163],[45,0.147],[20,0.187],[27,0.199],[34,0.187],[41,0.207],[17,0.237],[24,0.257],[31,0.229],[39,0.267],[46,0.247],[20,0.317],[27,0.347],[35,0.298],[43,0.336],[18,0.407],[25,0.437],[32,0.397],[21,0.517],[29,0.547],[17,0.041],[18,0.026],[16,0.014]];
const tdmfO7Pts = [[17,0.011],[19,0.015],[18,0.02],[22,0.025],[20,0.03],[25,0.035],[18,0.042],[28,0.05],[22,0.058],[32,0.065],[20,0.075],[26,0.085],[36,0.08],[18,0.095],[30,0.1],[40,0.095],[24,0.115],[34,0.12],[44,0.11],[20,0.13],[28,0.14],[38,0.135],[48,0.125],[22,0.16],[32,0.17],[42,0.165],[18,0.185],[26,0.2],[36,0.21],[46,0.19],[22,0.24],[30,0.26],[40,0.25],[20,0.3],[28,0.33],[36,0.32],[24,0.38],[32,0.42],[20,0.48],[26,0.55],[50,0.3],[55,0.22],[45,0.4],[38,0.5],[30,0.6],[42,0.065],[26,0.045],[55,0.09],[58,0.15],[52,0.055],[45,0.045],[56,0.023],[52,0.028],[72,0.034],[44,0.04],[50,0.6],[60,0.45],[17,0.75],[21,0.85],
[62,0.2],[65,0.3],[68,0.12],[70,0.4],[72,0.16],[75,0.25],[78,0.08],[80,0.35],[82,0.14],[85,0.22],[88,0.5],[90,0.1],[92,0.28],[95,0.18],[98,0.38],[100,0.12],[102,0.24],[105,0.07],[108,0.2],[110,0.32],[112,0.15],[115,0.45],[118,0.11],[120,0.26],[122,0.17],[125,0.35],[128,0.13],[130,0.22],[132,0.09],[135,0.3],[138,0.18],[140,0.42],[143,0.14],[146,0.25],[148,0.2],[66,0.06],[76,0.055],[86,0.05],[96,0.045],[64,0.55],[74,0.62],[84,0.7],[142,1.28],[114,1.06],[165,0.94],[149,0.74],[153,0.67],[290,0.72],[309,0.86],[309,0.78],[340,0.63],[340,0.56],[366,0.56],[270,0.44],[260,0.51],[243,0.31],[227,0.44],[219,0.25],[208,0.31],[200,0.2],[194,0.27],[194,0.33],[194,0.38],[194,0.47],[177,0.31],[155,0.28],[155,0.38],[155,0.48],[169,0.17],[177,0.17],[202,0.155],[204,0.14],[200,0.11],[204,0.1],[200,0.093],[196,0.083],[177,0.074],[173,0.06],[161,0.068],[153,0.093],[153,0.031],[153,0.021],[136,0.063],[118,0.057],[136,0.093],[114,0.063],[128,0.11],[100,0.025],[89,0.027],[323,0.18],[339,0.117],[370,0.06],[160,0.22],[170,0.12],[180,0.4],
[47,0.17],[52,0.21],[57,0.27],[62,0.16],[67,0.23],[72,0.32],[77,0.12],[82,0.19],[87,0.26],[92,0.37],[97,0.14],[102,0.25],[107,0.32],[48,0.088],[54,0.068],[60,0.108],[66,0.082],[72,0.072],[78,0.118],[84,0.088],[48,0.44],[55,0.49],[62,0.39],[70,0.49],[78,0.41],[86,0.33],[94,0.29],[100,0.44],[112,0.22],[120,0.33]];

const tdmfFeoCore = [[3,0.048],[8,0.052],[5,0.056],[12,0.059],[3,0.062],[9,0.065],[14,0.068],[5,0.071],[11,0.074],[3,0.077],[8,0.08],[15,0.083],[5,0.086],[12,0.09],[3,0.094],[9,0.098],[14,0.102],[5,0.107],[11,0.112],[3,0.117],[8,0.122],[15,0.127],[5,0.133],[12,0.139],[3,0.145],[9,0.152],[14,0.158],[5,0.165],[11,0.173],[3,0.18],[8,0.19],[14,0.2],[5,0.21],[10,0.22],[3,0.23],[8,0.245],[4,0.26],[7,0.28],[3,0.3]];
const tdmfFeoMid = [[18,0.067],[23,0.077],[29,0.073],[19,0.086],[26,0.091],[33,0.088],[39,0.094],[17,0.104],[24,0.109],[31,0.101],[38,0.107],[45,0.099],[20,0.123],[27,0.119],[34,0.129],[41,0.121],[17,0.143],[24,0.149],[31,0.139],[39,0.153],[46,0.143],[20,0.168],[27,0.178],[35,0.163],[43,0.173],[18,0.198],[25,0.204],[32,0.193],[40,0.208],[21,0.233],[29,0.238],[17,0.268],[25,0.278],[17,0.056]];
const tdmfFeoPts = [[17,0.062],[20,0.072],[18,0.082],[24,0.088],[28,0.095],[20,0.1],[32,0.108],[22,0.116],[36,0.112],[26,0.125],[40,0.12],[18,0.135],[30,0.14],[44,0.135],[22,0.15],[34,0.155],[48,0.145],[26,0.165],[38,0.17],[20,0.18],[30,0.185],[42,0.19],[52,0.175],[24,0.2],[36,0.21],[46,0.2],[18,0.22],[28,0.24],[40,0.23],[22,0.26],[34,0.27],[50,0.25],[55,0.125],[58,0.095],[50,0.085],[42,0.08],[35,0.075],[28,0.07],[45,0.072],[38,0.065],[55,0.068],[60,0.15],[62,0.19],[20,0.3],[28,0.32],[16,0.058],[46,0.388],[51,0.369],[13,0.325],[5,0.374],[44,0.053],[13,0.051],[25,0.035],
[64,0.11],[66,0.16],[68,0.09],[70,0.2],[72,0.13],[75,0.1],[78,0.18],[80,0.24],[82,0.12],[85,0.15],[88,0.095],[90,0.19],[92,0.13],[95,0.17],[98,0.11],[100,0.14],[102,0.22],[105,0.12],[108,0.16],[110,0.1],[112,0.19],[115,0.13],[118,0.15],[120,0.11],[125,0.18],[130,0.13],[135,0.2],[140,0.15],[145,0.12],[150,0.19],[65,0.075],[75,0.07],[88,0.078],[95,0.085],[105,0.08],[70,0.26],[85,0.27],[79,0.305],[79,0.29],[152,0.327],[219,0.305],[188,0.233],[146,0.254],[118,0.227],[89,0.204],[100,0.21],[309,0.183],[340,0.173],[270,0.164],[290,0.129],[311,0.136],[338,0.118],[340,0.111],[364,0.092],[370,0.095],[152,0.085],[152,0.086],[136,0.095],[117,0.111],[128,0.105],[165,0.118],[173,0.12],[192,0.12],[204,0.16],[199,0.162],[208,0.156],[239,0.15],[255,0.145],[223,0.15],[177,0.154],[140,0.147],[79,0.066],[160,0.17],[170,0.14],[180,0.2],[195,0.19],[130,0.09],
[47,0.118],[52,0.138],[57,0.168],[62,0.108],[67,0.148],[72,0.188],[77,0.118],[82,0.138],[87,0.178],[92,0.218],[97,0.128],[102,0.158],[107,0.188],[48,0.093],[54,0.083],[60,0.098],[66,0.088],[72,0.078],[78,0.098],[84,0.108],[48,0.228],[55,0.248],[62,0.268],[70,0.238],[78,0.218],[86,0.238],[94,0.198],[112,0.14],[120,0.17]];

const tdmfAoCore = [[3,11],[8,12.5],[5,14],[12,16],[3,18],[9,20],[14,22],[5,25],[11,28],[3,31],[8,35],[15,38],[5,42],[12,47],[3,52],[9,58],[14,64],[5,71],[11,78],[3,86],[8,95],[15,105],[5,116],[12,128],[3,141],[9,156],[14,172],[5,190],[11,210],[3,232],[8,256],[15,283],[5,312],[12,345],[3,380],[9,420],[14,465],[5,515],[10,570],[3,630],[8,700],[4,800],[9,900],[3,1050],[6,1300],[3,1600]];
const tdmfAoMid = [[18,21],[23,25],[29,23],[19,29],[26,33],[33,31],[39,28],[17,39],[24,43],[31,41],[38,45],[45,41],[20,53],[27,51],[34,57],[41,53],[17,66],[24,71],[31,63],[39,73],[46,67],[20,86],[27,91],[35,83],[43,89],[18,112],[25,117],[32,107],[40,120],[21,142],[29,152],[17,182],[25,192],[33,172],[19,245],[27,265],[17,335],[23,410],[17,520],[15,680]];
const tdmfAoPts = [[17,14],[20,18],[18,22],[24,26],[22,30],[28,34],[20,38],[32,42],[26,46],[36,50],[18,55],[30,58],[40,60],[22,66],[34,70],[44,66],[26,78],[38,82],[48,76],[20,90],[30,94],[42,98],[52,88],[24,108],[36,112],[46,110],[18,125],[28,135],[40,128],[56,118],[22,150],[34,155],[46,160],[26,175],[38,185],[20,205],[30,215],[44,225],[24,255],[36,265],[50,245],[18,295],[28,320],[40,310],[22,360],[34,380],[26,430],[38,470],[20,520],[30,580],[24,680],[18,780],[28,900],[55,62],[58,45],[50,35],[45,28],[38,22],[30,18],[42,16],[55,85],[60,140],[62,100],[58,200],[55,330],[48,420],[42,11.5],[23,13.6],[65,16],[23,3150],[15,2480],[20,2390],[30,2050],
[64,50],[66,90],[68,30],[70,150],[72,70],[75,40],[78,110],[80,200],[82,60],[85,130],[88,35],[90,85],[92,250],[95,55],[98,160],[100,45],[102,100],[105,70],[108,300],[110,40],[112,120],[115,65],[118,180],[120,30],[122,90],[125,55],[128,140],[130,75],[135,100],[138,60],[140,200],[145,45],[148,80],[150,120],[155,65],[65,20],[75,18],[85,22],[100,25],[70,400],[85,350],[95,480],[76,650],[342,1460],[341,248],[366,197],[370,68],[338,62],[323,36],[239,515],[220,16],[242,34],[260,81],[270,107],[290,107],[309,125],[309,107],[202,93],[202,80],[202,68],[202,58],[198,51],[208,44],[208,31],[190,35],[194,38],[172,68],[173,51],[175,60],[178,70],[163,87],[172,14.4],[171,25],[155,35],[153,160],[171,160],[133,155],[124,400],[104,1220],[115,1190],[89,1670],[69,2100],[102,815],[112,600],[104,210],[104,290],[101,13.6],[160,50],[180,45],[150,28],
[47,62],[52,77],[57,97],[62,57],[67,82],[72,112],[77,47],[82,67],[87,92],[92,132],[97,52],[102,82],[107,112],[48,31],[54,26],[60,36],[66,29],[72,25],[78,34],[84,29],[48,152],[55,182],[62,222],[70,172],[78,152],[86,202],[94,172],[112,70],[120,90]];

const tdmfMgCore = [[3,0.0075],[8,0.0085],[5,0.0095],[12,0.0107],[3,0.012],[9,0.0135],[14,0.015],[5,0.017],[11,0.019],[3,0.021],[8,0.024],[15,0.027],[5,0.03],[12,0.034],[3,0.038],[9,0.042],[14,0.047],[5,0.053],[11,0.059],[3,0.066],[8,0.074],[15,0.083],[5,0.093],[12,0.104],[3,0.116],[9,0.13],[14,0.145],[5,0.162],[11,0.18],[3,0.2],[8,0.225],[4,0.25],[10,0.28],[3,0.32],[7,0.38],[5,0.0065]];
const tdmfMgMid = [[18,0.024],[23,0.027],[29,0.029],[19,0.033],[26,0.037],[33,0.035],[39,0.039],[17,0.044],[24,0.049],[31,0.046],[38,0.051],[45,0.047],[20,0.057],[27,0.061],[34,0.065],[41,0.059],[17,0.071],[24,0.077],[31,0.069],[39,0.079],[46,0.074],[20,0.089],[27,0.097],[35,0.087],[43,0.094],[18,0.109],[25,0.117],[32,0.107],[40,0.119],[21,0.134],[29,0.139],[17,0.159],[25,0.169],[33,0.154],[19,0.199],[27,0.219],[17,0.017],[16,0.012]];
const tdmfMgPts = [[17,0.012],[19,0.016],[18,0.02],[22,0.024],[20,0.028],[25,0.032],[18,0.037],[28,0.04],[22,0.045],[32,0.048],[20,0.052],[26,0.057],[36,0.055],[18,0.062],[30,0.067],[40,0.064],[24,0.074],[34,0.078],[44,0.072],[20,0.085],[28,0.09],[38,0.087],[48,0.083],[22,0.1],[32,0.105],[42,0.102],[18,0.115],[26,0.12],[36,0.125],[46,0.115],[22,0.14],[30,0.145],[40,0.15],[20,0.17],[28,0.19],[36,0.18],[24,0.22],[32,0.25],[20,0.28],[17,0.36],[50,0.05],[55,0.065],[45,0.04],[38,0.034],[30,0.03],[40,0.025],[26,0.021],[55,0.1],[58,0.13],[52,0.16],[45,0.21],[48,0.55],[21,0.48],[72,0.018],[55,0.018],[50,0.023],[30,0.062],[9,0.0064],[9,0.0092],[35,0.022],
[64,0.08],[66,0.12],[68,0.055],[70,0.095],[72,0.15],[75,0.07],[78,0.11],[80,0.045],[82,0.09],[85,0.13],[88,0.065],[90,0.1],[92,0.17],[95,0.08],[98,0.12],[100,0.055],[102,0.095],[105,0.14],[108,0.07],[110,0.11],[112,0.04],[115,0.085],[118,0.16],[120,0.065],[122,0.1],[125,0.075],[128,0.12],[130,0.05],[135,0.09],[140,0.11],[145,0.07],[65,0.035],[75,0.03],[85,0.038],[95,0.035],[70,0.2],[80,0.23],[141,0.62],[165,0.49],[309,0.49],[309,0.28],[290,0.32],[260,0.34],[270,0.18],[323,0.128],[341,0.144],[341,0.124],[366,0.16],[338,0.045],[370,0.0284],[242,0.113],[239,0.092],[219,0.19],[208,0.13],[202,0.086],[202,0.068],[202,0.076],[193,0.16],[179,0.072],[176,0.047],[182,0.029],[171,0.068],[155,0.086],[153,0.036],[151,0.068],[148,0.034],[133,0.036],[132,0.019],[153,0.02],[153,0.088],[155,0.077],[159,0.18],[148,0.124],[130,0.13],[134,0.22],[114,0.3],[110,0.2],[89,0.27],[160,0.1],[170,0.12],[185,0.09],
[47,0.069],[52,0.084],[57,0.099],[62,0.064],[67,0.089],[72,0.119],[77,0.059],[82,0.079],[87,0.099],[92,0.129],[97,0.064],[102,0.084],[107,0.109],[48,0.044],[54,0.037],[60,0.047],[66,0.041],[72,0.035],[78,0.044],[84,0.049],[48,0.149],[55,0.169],[62,0.199],[70,0.179],[78,0.159],[86,0.179],[94,0.149],[112,0.09],[120,0.075]];

const tdmfSCore = [[3,0.0045],[8,0.005],[5,0.0055],[12,0.006],[3,0.0066],[9,0.0072],[14,0.0078],[5,0.0085],[11,0.0093],[3,0.01],[8,0.011],[15,0.012],[5,0.013],[12,0.014],[3,0.0152],[9,0.0165],[14,0.018],[5,0.0195],[11,0.021],[3,0.023],[8,0.025],[15,0.027],[5,0.029],[12,0.032],[3,0.035],[9,0.038],[14,0.041],[5,0.045],[11,0.049],[3,0.053],[8,0.058],[4,0.064],[10,0.07],[3,0.078],[6,0.09]];
const tdmfSMid = [[18,0.0079],[23,0.0087],[29,0.0084],[19,0.0097],[26,0.0104],[33,0.0099],[39,0.0109],[17,0.0119],[24,0.0129],[31,0.0124],[38,0.0134],[45,0.0129],[20,0.0149],[27,0.0157],[34,0.0164],[41,0.0149],[17,0.0179],[24,0.0194],[31,0.0179],[39,0.0204],[46,0.0189],[20,0.0229],[27,0.0244],[35,0.0219],[43,0.0239],[18,0.0269],[25,0.0289],[32,0.0269],[40,0.0299],[21,0.0339],[29,0.0359],[17,0.0399],[25,0.0439],[33,0.0389],[19,0.0499],[27,0.0549],[17,0.0061],[16,0.0051]];
const tdmfSPts = [[17,0.0055],[19,0.0065],[18,0.0075],[22,0.008],[20,0.009],[25,0.0095],[18,0.0105],[28,0.011],[22,0.012],[32,0.0125],[20,0.0135],[26,0.0145],[36,0.014],[18,0.016],[30,0.017],[40,0.016],[24,0.018],[34,0.019],[44,0.0185],[20,0.021],[28,0.022],[38,0.021],[48,0.02],[22,0.024],[32,0.025],[42,0.024],[18,0.027],[26,0.028],[36,0.03],[46,0.027],[22,0.033],[30,0.035],[40,0.036],[20,0.04],[28,0.043],[36,0.042],[24,0.048],[32,0.05],[20,0.055],[26,0.06],[50,0.012],[55,0.015],[45,0.01],[38,0.009],[30,0.008],[40,0.0075],[55,0.025],[58,0.03],[52,0.038],[60,0.02],[50,0.124],[34,0.12],[20,0.18],[16,0.148],[7,0.097],[38,0.0061],[62,0.0064],[42,0.0051],[17,0.07],[19,0.08],
[64,0.02],[66,0.03],[68,0.013],[70,0.025],[72,0.016],[75,0.035],[78,0.022],[80,0.011],[82,0.028],[85,0.018],[88,0.04],[90,0.014],[92,0.024],[95,0.02],[98,0.032],[100,0.012],[102,0.026],[105,0.017],[108,0.022],[110,0.015],[115,0.019],[120,0.013],[125,0.017],[65,0.009],[75,0.0085],[85,0.008],[95,0.009],[70,0.045],[80,0.05],[370,0.0455],[342,0.0326],[342,0.0281],[338,0.0178],[323,0.0246],[309,0.0428],[310,0.03],[290,0.051],[270,0.023],[260,0.0435],[238,0.0117],[242,0.034],[225,0.035],[217,0.033],[208,0.041],[202,0.0226],[202,0.0178],[194,0.0505],[194,0.0335],[179,0.03],[182,0.022],[173,0.02],[171,0.0058],[163,0.0144],[154,0.0166],[154,0.0137],[163,0.0736],[151,0.063],[188,0.086],[116,0.0675],[115,0.058],[132,0.0281],[140,0.025],[120,0.0216],[112,0.0206],[124,0.0365],[101,0.0082],[79,0.0756],[145,0.02],[135,0.016],[150,0.03],
[47,0.0159],[52,0.0189],[57,0.0229],[62,0.0149],[67,0.0199],[72,0.0269],[77,0.0139],[82,0.0179],[87,0.0219],[92,0.0299],[97,0.0149],[102,0.0199],[107,0.0249],[48,0.0109],[54,0.0094],[60,0.0119],[66,0.0104],[72,0.0089],[78,0.0109],[84,0.0119],[48,0.0349],[55,0.0399],[62,0.0449],[70,0.0379],[78,0.0329],[86,0.0359],[94,0.0299],[112,0.02],[120,0.024]];

// ---------- configuration ----------
const FONT = 'DejaVu Sans';
const FS = 12.5;
const BLUE = '#1f77b4';
const XNAME = 'Footpoint strength of nearest\nclosed fieldline [G]';
const Q = {
  vel:{type:'value', min:200, max:900, ticks:velTicks, name:'{i|α} velocity [km/s]'},
  c6:{type:'log', min:0.053, max:14.7, ticks:c6Ticks, name:'C{s|6+}/C{s|5+}'},
  o7:{type:'log', min:0.00385, max:1.48, ticks:o7Ticks, name:'O{s|7+}/O{s|6+}'},
  feo:{type:'log', min:0.0341, max:0.402, ticks:feoTicks, name:'Fe/O'},
  ao:{type:'log', min:4.9, max:3550, ticks:aoTicks, name:'{i|α}/O{s|6+}'},
  mg:{type:'log', min:0.0019, max:0.74, ticks:mgTicks, name:'Mg{s|10+}/O{s|6+}'},
  s:{type:'log', min:0.003, max:0.195, ticks:sTicks, name:'S{s|10+}/O{s|6+}'}
};
const DASHDOT = [6,2,1.5,2];
const panels = [
  {q:'vel', core:pfssVelCore, mid:pfssVelMid, pts:pfssVelPts, left:67, top:64.3, w:170.5, h:160.7, xmax:389, xt:xTicksPFSS, gap:36},
  {q:'c6', core:pfssC6Core, mid:pfssC6Mid, pts:pfssC6Pts, left:67, top:237.3, w:170.5, h:159.4, xmax:389, xt:xTicksPFSS, gap:38},
  {q:'o7', core:pfssO7Core, mid:pfssO7Mid, pts:pfssO7Pts, left:67, top:408.3, w:170.5, h:162.4, xmax:389, xt:xTicksPFSS, gap:38,
    lines:[{v:o7Threshold, type:DASHDOT, color:'#444'}]},
  {q:'feo', core:pfssFeoCore, mid:pfssFeoMid, pts:pfssFeoPts, left:67, top:581, w:170.5, h:160.7, xmax:389, xt:xTicksPFSS, gap:41, bottom:true,
    lines:[{v:feoUpper, type:DASHDOT, color:'#111'},{v:feoPhot, type:[4,2], color:'#111'}]},
  {q:'ao', core:pfssAoCore, mid:pfssAoMid, pts:pfssAoPts, left:313, top:150.7, w:170.5, h:161, xmax:389, xt:xTicksPFSS, gap:28},
  {q:'mg', core:pfssMgCore, mid:pfssMgMid, pts:pfssMgPts, left:313, top:322.7, w:170.5, h:160.6, xmax:389, xt:xTicksPFSS, gap:42},
  {q:'s', core:pfssSCore, mid:pfssSMid, pts:pfssSPts, left:313, top:495, w:170.5, h:160.7, xmax:389, xt:xTicksPFSS, gap:42, bottom:true},
  {q:'vel', core:tdmfVelCore, mid:tdmfVelMid, pts:tdmfVelPts, left:564.5, top:64.3, w:171, h:160.7, xmax:400, xt:xTicksTDMF, gap:35},
  {q:'c6', core:tdmfC6Core, mid:tdmfC6Mid, pts:tdmfC6Pts, left:564.5, top:237.3, w:171, h:159.4, xmax:400, xt:xTicksTDMF, gap:37},
  {q:'o7', core:tdmfO7Core, mid:tdmfO7Mid, pts:tdmfO7Pts, left:564.5, top:408.3, w:171, h:162.4, xmax:400, xt:xTicksTDMF, gap:37,
    lines:[{v:o7Threshold, type:DASHDOT, color:'#444'}]},
  {q:'feo', core:tdmfFeoCore, mid:tdmfFeoMid, pts:tdmfFeoPts, left:564.5, top:581, w:171, h:160.7, xmax:400, xt:xTicksTDMF, gap:39, bottom:true,
    lines:[{v:feoUpper, type:DASHDOT, color:'#111'},{v:feoPhot, type:[4,2], color:'#111'}]},
  {q:'ao', core:tdmfAoCore, mid:tdmfAoMid, pts:tdmfAoPts, left:810.5, top:150.7, w:171, h:161, xmax:400, xt:xTicksTDMF, gap:36},
  {q:'mg', core:tdmfMgCore, mid:tdmfMgMid, pts:tdmfMgPts, left:810.5, top:322.7, w:171, h:160.6, xmax:400, xt:xTicksTDMF, gap:42},
  {q:'s', core:tdmfSCore, mid:tdmfSMid, pts:tdmfSPts, left:810.5, top:495, w:171, h:160.7, xmax:400, xt:xTicksTDMF, gap:43, bottom:true}
];

function minorTicks(min, max){
  const out = [];
  for (let e = Math.floor(Math.log10(min)); e <= Math.ceil(Math.log10(max)); e++){
    for (let k = 2; k <= 9; k++){
      const v = k * Math.pow(10, e);
      if (v >= min && v <= max) out.push(v);
    }
  }
  return out;
}
function logLabel(v){
  const e = Math.round(Math.log10(v));
  return '10{s|' + (e < 0 ? '\u2212' + (-e) : e) + '}';
}
const richSup = {
  s:{fontFamily:FONT, fontSize:8.8, lineHeight:11, verticalAlign:'top', color:'#000'},
  i:{fontFamily:FONT, fontSize:FS, lineHeight:18, fontStyle:'italic', color:'#000'}
};
const tickLine = {color:'#000', width:0.8};

const grids = [], xAxes = [], yAxes = [], series = [];
panels.forEach((p, i) => {
  const q = Q[p.q];
  grids.push({left:p.left, top:p.top, width:p.w, height:p.h, show:true, borderColor:'#000', borderWidth:0.8,
    backgroundColor:'transparent', containLabel:false, outerBoundsMode:'none'});
  xAxes.push({type:'value', gridIndex:i, min:0, max:p.xmax,
    axisLine:{show:false}, splitLine:{show:false},
    axisTick:{show:true, length:4, lineStyle:tickLine, customValues:p.xt},
    axisLabel:{show:!!p.bottom, customValues:p.xt, margin:6, fontFamily:FONT, fontSize:FS, color:'#000', lineHeight:14},
    name: p.bottom ? XNAME : '', nameLocation:'middle', nameGap:22,
    nameTextStyle:{fontFamily:FONT, fontSize:FS, color:'#000', lineHeight:15.5, align:'center'}
  });
  const yMain = {type:q.type, gridIndex:i, min:q.min, max:q.max,
    axisLine:{show:false}, splitLine:{show:false},
    axisTick:{show:true, length:4, lineStyle:tickLine, customValues:q.ticks},
    axisLabel:{show:true, customValues:q.ticks, margin:7, fontFamily:FONT, fontSize:FS, color:'#000', lineHeight:18,
      rich:richSup, formatter: q.type === 'log' ? logLabel : (v => String(v))},
    name:q.name, nameLocation:'middle', nameRotate:90, nameGap:p.gap,
    nameTextStyle:{fontFamily:FONT, fontSize:FS, color:'#000', lineHeight:18, rich:richSup}
  };
  if (q.type === 'log') yMain.logBase = 10;
  yAxes.push(yMain);
  series.push({type:'scatter', xAxisIndex:i, yAxisIndex:i, data:p.core, symbolSize:6.5, silent:true,
    itemStyle:{color:BLUE, opacity:1}, z:2});
  series.push({type:'scatter', xAxisIndex:i, yAxisIndex:i, data:p.mid, symbolSize:5, silent:true,
    itemStyle:{color:BLUE, opacity:1}, z:2});
  const s = {type:'scatter', xAxisIndex:i, yAxisIndex:i, data:p.pts, symbolSize:2.8, silent:true,
    itemStyle:{color:BLUE, opacity:0.85}, z:3};
  if (p.lines){
    s.markLine = {silent:true, symbol:'none', animation:false, label:{show:false},
      data:p.lines.map(l => ({yAxis:l.v, lineStyle:{type:l.type, color:l.color, width:1}}))};
  }
  series.push(s);
});
panels.forEach((p, i) => {
  const q = Q[p.q];
  if (q.type !== 'log') return;
  yAxes.push({type:'log', logBase:10, gridIndex:i, min:q.min, max:q.max, position:'left',
    axisLine:{show:false}, splitLine:{show:false}, axisLabel:{show:false},
    axisTick:{show:true, length:2.2, lineStyle:tickLine, customValues:minorTicks(q.min, q.max)}});
});

const chart = echarts.init(document.getElementById('c'), null, {renderer:'canvas'});
chart.setOption({
  animation:false,
  backgroundColor:'#fff',
  grid:grids, xAxis:xAxes, yAxis:yAxes, series:series,
  graphic:[
    {type:'text', x:274, y:48, style:{text:'PFSS', fontFamily:FONT, fontSize:15, fill:'#000', textAlign:'center', textVerticalAlign:'middle'}},
    {type:'text', x:770, y:48, style:{text:'TDMF', fontFamily:FONT, fontSize:15, fill:'#000', textAlign:'center', textVerticalAlign:'middle'}},
    {type:'text', x:997, y:15, style:{text:'11', fontFamily:'DejaVu Serif', fontSize:16, fill:'#000', textAlign:'right', textVerticalAlign:'middle'}}
  ]
});
</script></body></html>
